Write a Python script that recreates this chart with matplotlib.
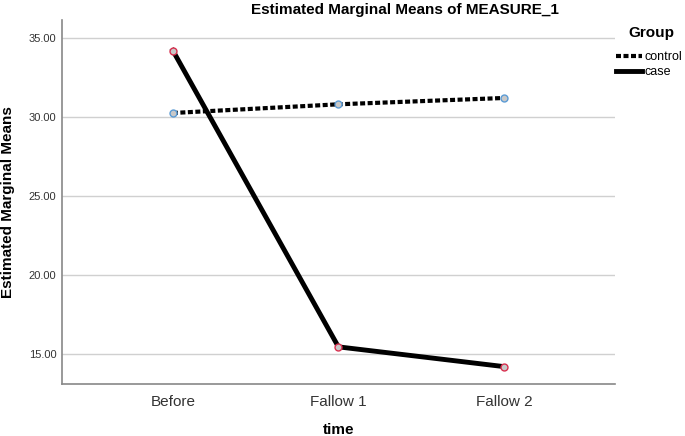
import matplotlib.pyplot as plt

plt.rcParams['font.family'] = ['Liberation Sans', 'DejaVu Sans']

times = ['Before', 'Fallow 1', 'Fallow 2']
control = [30.25, 30.8, 31.2]
case = [34.2, 15.45, 14.2]

fig = plt.figure(figsize=(6.85, 4.36), dpi=100)
ax = fig.add_axes([0.0905, 0.1193, 0.807, 0.835])

x = range(len(times))
ax.plot(x, control, color='black', linewidth=3, linestyle=(0, (1.2, 0.6)),
        marker='o', markersize=5, markerfacecolor='#c8c8c8',
        markeredgecolor='#5b9bd5', markeredgewidth=1, label='control', zorder=3)
ax.plot(x, case, color='black', linewidth=3.5,
        marker='o', markersize=5, markerfacecolor='#c8c8c8',
        markeredgecolor='#d9304f', markeredgewidth=1, label='case', zorder=3)

ax.set_xlim(-0.67, 2.67)
ax.set_ylim(13.1, 36.14)
ax.set_xticks(list(x))
ax.set_xticklabels(times, fontsize=11, color='#333333')
yt = [15, 20, 25, 30, 35]
ax.set_yticks(yt)
ax.set_yticklabels([f'{v:.2f}' for v in yt], fontsize=8, color='#333333')
ax.tick_params(axis='x', length=0, pad=8)
ax.tick_params(axis='y', length=0, pad=4)
ax.yaxis.grid(True, color='#d0d0d0', linewidth=1)
ax.set_axisbelow(True)
for s in ['top', 'right']:
    ax.spines[s].set_visible(False)
for s in ['left', 'bottom']:
    ax.spines[s].set_color('#888888')
    ax.spines[s].set_linewidth(1.2)

ax.set_xlabel('time', fontsize=11, fontweight='bold', labelpad=10)
ax.set_ylabel('Estimated Marginal Means', fontsize=11, fontweight='bold', labelpad=10)
fig.text(405 / 685, 1 - 10 / 436, 'Estimated Marginal Means of MEASURE_1', ha='center', va='center',
         fontsize=11, fontweight='bold')

# legend title placed on its own, entries below
fig.text(651 / 685, 1 - 33 / 436, 'Group', ha='center', va='center',
         fontsize=11, fontweight='bold')
leg = fig.legend(loc='upper left', bbox_to_anchor=(616 / 685, 1 - 51 / 436), frameon=False,
                 fontsize=9, handlelength=2.1, handletextpad=0.2,
                 labelspacing=0.25, borderaxespad=0, borderpad=0)
for h in leg.legend_handles:
    h.set_marker('')

fig.savefig('out.png', dpi=100)
